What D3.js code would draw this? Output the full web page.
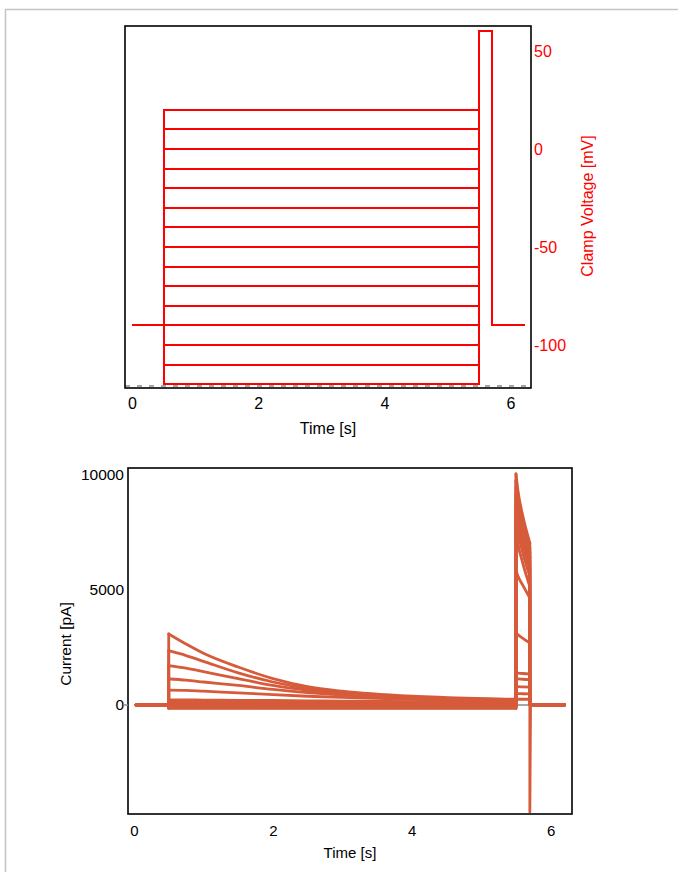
<!DOCTYPE html>
<html>
<head>
<meta charset="utf-8">
<script src="https://cdn.jsdelivr.net/npm/d3@7"></script>
<style>
  body { margin: 0; background: #fff; }
  svg { display: block; }
  text { font-family: Arial, "Liberation Sans", sans-serif; }
</style>
</head>
<body>
<div id="chart"></div>
<script>
// ---- protocol (top panel) ----
var stepLevels = [20, 10, 0, -10, -20, -30, -40, -50, -60, -70, -80, -90, -100, -110, -120]; // mV
var holdingLevel = -90;
var tailLevel = 60;
var protocolTimes = [0, 0.5, 5.5, 5.7, 6.23]; // start, step on, step off, tail off, end
var voltageTicks = [50, 0, -50, -100];
var timeTicks = [0, 2, 4, 6];

// ---- recorded current (bottom panel) ----
var currentTicks = [0, 5000, 10000];
var traceSpan = [0.03, 6.2];
var decayTimes = [0.5, 0.75, 1.0, 1.5, 2.0, 2.5, 3.0, 4.0, 5.0, 5.5];
var decayCurrents = [
  [3090, 2650, 2250, 1650, 1150, 800, 600, 380, 280, 250],
  [2360, 2150, 1900, 1400, 1000, 720, 540, 350, 260, 230],
  [1710, 1600, 1450, 1150, 850, 640, 490, 330, 250, 220],
  [1130, 1080, 1000, 850, 680, 540, 430, 300, 230, 200],
  [650, 640, 600, 530, 450, 380, 330, 250, 200, 180],
  [220, 220, 215, 205, 195, 180, 170, 150, 140, 130],
  [120, 120, 120, 120, 120, 120, 120, 120, 120, 120],
  [80, 80, 80, 80, 80, 80, 80, 80, 80, 80],
  [40, 40, 40, 40, 40, 40, 40, 40, 40, 40],
  [0, 0, 0, 0, 0, 0, 0, 0, 0, 0],
  [-30, -30, -30, -30, -30, -30, -30, -30, -30, -30],
  [-60, -60, -60, -60, -60, -60, -60, -60, -60, -60],
  [-90, -90, -90, -90, -90, -90, -90, -90, -90, -90],
  [-120, -120, -120, -120, -120, -120, -120, -120, -120, -120],
  [-150, -150, -150, -150, -150, -150, -150, -150, -150, -150]
];
var tailTimes = [5.5, 5.53, 5.6, 5.7];
var tailCurrents = [
  [10050, 9300, 8200, 7050],
  [9750, 9050, 8000, 6850],
  [9450, 8800, 7750, 6650],
  [9150, 8500, 7500, 6450],
  [8850, 8200, 7250, 6200],
  [8500, 7900, 6950, 5950],
  [8100, 7500, 6600, 5600],
  [7600, 7000, 6150, 5150],
  [5850, 5600, 5200, 4650],
  [3150, 3050, 2900, 2700],
  [1400, 1390, 1370, 1350],
  [1150, 1140, 1120, 1100],
  [800, 795, 790, 780],
  [500, 495, 490, 480],
  [250, 250, 250, 250]
];
var offCurrents = [-4650, 0, 0, 0, 0, 0, 0, 0, 0, 0, 0, 0, 0, 0, 0]; // current at tail off

;(function(cxt){
  var RED = "#ff0000", ORANGE = "#d65b3b";
  var plain = function(d){ return String(d); };
  var svg = d3.select("#chart").append("svg").attr("width", 678).attr("height", 872);

  // outer frame
  svg.append("rect").attr("x", 5.5).attr("y", 9.5).attr("width", 700).attr("height", 900)
    .attr("fill", "none").attr("stroke", "#c4c4c4").attr("stroke-width", 1.5);

  // ================= top panel =================
  var top = { left: 125, right: 531, top: 26, bottom: 388 };
  var xT = d3.scaleLinear().domain([-0.111, 6.325]).range([top.left, top.right]);
  var yV = d3.scaleLinear().domain([-121.9, 62.8]).range([top.bottom, top.top]);
  var gT = svg.append("g");

  gT.append("line").attr("x1", top.left).attr("x2", top.right)
    .attr("y1", top.bottom - 2).attr("y2", top.bottom - 2)
    .attr("stroke", "#8a8a8a").attr("stroke-width", 1.5).attr("stroke-dasharray", "5,7");

  var vLine = d3.line().x(function(d){ return xT(d[0]); }).y(function(d){ return yV(d[1]); });
  stepLevels.forEach(function(lv){
    var p = protocolTimes;
    var pts = [[p[0], holdingLevel], [p[1], holdingLevel], [p[1], lv], [p[2], lv],
               [p[2], tailLevel], [p[3], tailLevel], [p[3], holdingLevel], [p[4], holdingLevel]];
    gT.append("path").attr("d", vLine(pts)).attr("fill", "none")
      .attr("stroke", RED).attr("stroke-width", 2).attr("shape-rendering", "crispEdges");
  });

  gT.append("rect").attr("x", top.left).attr("y", top.top)
    .attr("width", top.right - top.left).attr("height", top.bottom - top.top)
    .attr("fill", "none").attr("stroke", "#000").attr("stroke-width", 1.6);

  var axT = gT.append("g").attr("transform", "translate(0," + top.bottom + ")")
    .call(d3.axisBottom(xT).tickValues(timeTicks).tickFormat(plain).tickSize(0).tickPadding(10));
  axT.select(".domain").remove();
  axT.selectAll("text").attr("font-size", 16).attr("fill", "#000");

  var axV = gT.append("g").attr("transform", "translate(" + top.right + ",0)")
    .call(d3.axisRight(yV).tickValues(voltageTicks).tickFormat(plain).tickSize(0).tickPadding(3));
  axV.select(".domain").remove();
  axV.selectAll("text").attr("font-size", 16).attr("fill", RED);

  gT.append("text").attr("x", (top.left + top.right) / 2).attr("y", 434)
    .attr("text-anchor", "middle").attr("font-size", 16).text("Time [s]");
  gT.append("text").attr("transform", "translate(593,206) rotate(-90)")
    .attr("text-anchor", "middle").attr("font-size", 16).attr("fill", RED)
    .text("Clamp Voltage [mV]");

  // ================= bottom panel =================
  var bot = { left: 128, right: 572, top: 468, bottom: 814 };
  var xB = d3.scaleLinear().domain([-0.0864, 6.307]).range([bot.left, bot.right]);
  var yI = d3.scaleLinear().domain([-4739, 10304]).range([bot.bottom, bot.top]);
  var gB = svg.append("g");

  gB.append("line").attr("x1", xB(traceSpan[0])).attr("x2", xB(traceSpan[1]))
    .attr("y1", yI(0)).attr("y2", yI(0)).attr("stroke", "#8a8a8a").attr("stroke-width", 1.5);

  var straight = d3.line().x(function(d){ return xB(d[0]); }).y(function(d){ return yI(d[1]); });
  var smooth = d3.line().curve(d3.curveMonotoneX)
    .x(function(d){ return xB(d[0]); }).y(function(d){ return yI(d[1]); });
  var tEnd = tailTimes[tailTimes.length - 1];

  decayCurrents.forEach(function(row, i){
    var tail = tailCurrents[i];
    var decay = decayTimes.map(function(t, j){ return [t, row[j]]; });
    var tailPts = tailTimes.map(function(t, j){ return [t, tail[j]]; });
    var pieces = [
      { gen: straight, pts: [[traceSpan[0], 0], [decayTimes[0], 0], [decayTimes[0], row[0]]] },
      { gen: smooth, pts: decay },
      { gen: straight, pts: [[decayTimes[decayTimes.length - 1], row[row.length - 1]], [tailTimes[0], tail[0]]] },
      { gen: smooth, pts: tailPts },
      { gen: straight, pts: [[tEnd, tail[tail.length - 1]], [tEnd, offCurrents[i]], [tEnd + 0.01, 0], [traceSpan[1], 0]] }
    ];
    var sweep = gB.append("g").attr("fill", "none").attr("stroke", ORANGE)
      .attr("stroke-width", 2.8).attr("stroke-linejoin", "round").attr("stroke-linecap", "round");
    pieces.forEach(function(pc){ sweep.append("path").attr("d", pc.gen(pc.pts)); });
  });

  gB.append("rect").attr("x", bot.left).attr("y", bot.top)
    .attr("width", bot.right - bot.left).attr("height", bot.bottom - bot.top)
    .attr("fill", "none").attr("stroke", "#000").attr("stroke-width", 1.6);

  var axB = gB.append("g").attr("transform", "translate(0," + bot.bottom + ")")
    .call(d3.axisBottom(xB).tickValues(timeTicks).tickFormat(plain).tickSize(0).tickPadding(11));
  axB.select(".domain").remove();
  axB.selectAll("text").attr("font-size", 15).attr("fill", "#000");

  var axI = gB.append("g").attr("transform", "translate(" + (bot.left - 4) + ",0)")
    .call(d3.axisLeft(yI).tickValues(currentTicks).tickFormat(plain).tickSize(0).tickPadding(0));
  axI.select(".domain").remove();
  axI.selectAll("text").attr("font-size", 15.5).attr("fill", "#000");
  gB.append("line").attr("x1", bot.left - 5).attr("x2", bot.left)
    .attr("y1", yI(0)).attr("y2", yI(0)).attr("stroke", "#8a8a8a").attr("stroke-width", 1.5);

  gB.append("text").attr("x", (bot.left + bot.right) / 2).attr("y", 858)
    .attr("text-anchor", "middle").attr("font-size", 15).text("Time [s]");
  gB.append("text").attr("transform", "translate(71,644) rotate(-90)")
    .attr("text-anchor", "middle").attr("font-size", 15.5).text("Current [pA]");
})(window);
</script>
</body>
</html>
